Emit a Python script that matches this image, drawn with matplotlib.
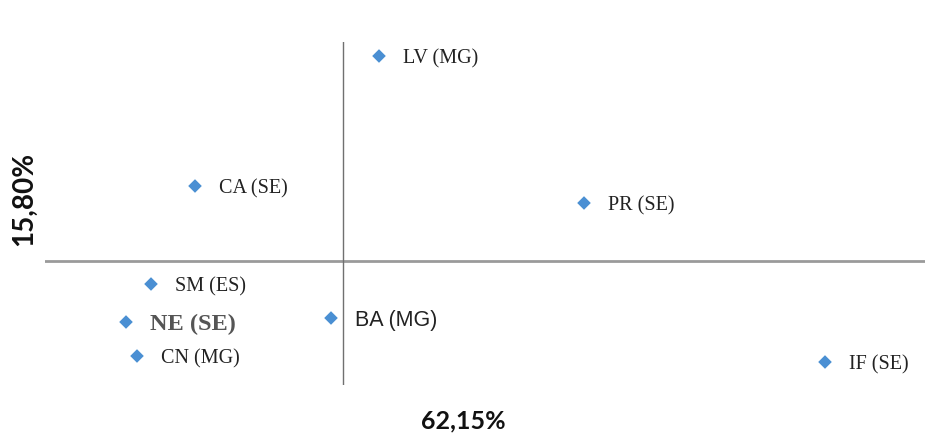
import matplotlib
matplotlib.use("Agg")
import matplotlib.pyplot as plt

# Data (factor scores)
labels = ["LV (MG)", "CA (SE)", "PR (SE)", "SM (ES)", "NE (SE)", "BA (MG)", "CN (MG)", "IF (SE)"]
dim1 = [0.36, -1.48, 2.41, -1.92, -2.17, -0.12, -2.06, 4.82]
dim2 = [2.05, 0.75, 0.58, -0.23, -0.61, -0.57, -0.95, -1.01]
xlabel = "62,15%"
ylabel = "15,80%"

# Styles for individual labels (not data)
default_style = dict(family="Liberation Serif", fontsize=14.5, color="#222222")
special_style = {
    "NE (SE)": dict(family="Liberation Serif", fontsize=17.5, color="#555555", fontweight="bold"),
    "BA (MG)": dict(family="Liberation Sans", fontsize=15.5, color="#222222"),
}

fig = plt.figure(figsize=(9.25, 4.37), dpi=100)
ax = fig.add_axes([45 / 925, 52 / 437, 880 / 925, 343 / 437])
ax.set_xlim(-2.98, 5.82)
ax.set_ylim(-1.24, 2.19)
for s in ax.spines.values():
    s.set_visible(False)
ax.set_xticks([])
ax.set_yticks([])

ax.axhline(0, color="#9a9a9a", lw=2.0, zorder=1)
ax.axvline(0, color="#707070", lw=1.0, zorder=1)

ax.scatter(dim1, dim2, marker="D", s=48, color="#4a8fd3", edgecolors="none", zorder=3)

for lab, x, y in zip(labels, dim1, dim2):
    st = special_style.get(lab, default_style)
    ax.annotate(lab, (x, y), xytext=(17, -2), textcoords="offset points",
                ha="left", va="center", **st)

fig.text(463 / 925, 1 - 421 / 437, xlabel, ha="center", va="center",
         family="Lato", fontweight="bold", fontsize=18, color="#111111")
fig.text(24 / 925, 1 - 199 / 437, ylabel, ha="center", va="center", rotation=90,
         family="Lato", fontweight="bold", fontsize=20, color="#111111")

fig.savefig("out.png", dpi=100)
